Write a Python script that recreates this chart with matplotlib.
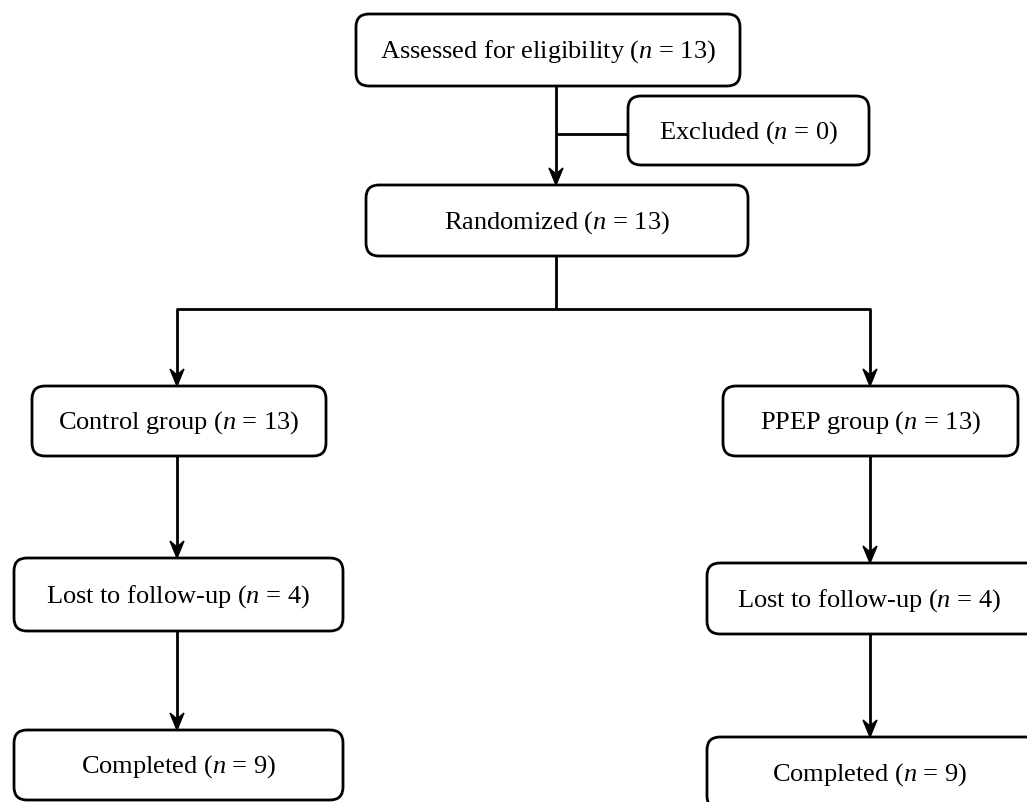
import matplotlib.pyplot as plt
from matplotlib.patches import FancyBboxPatch, Polygon

plt.rcParams["mathtext.fontset"] = "custom"
plt.rcParams["mathtext.rm"] = "Liberation Serif"
plt.rcParams["mathtext.it"] = "Liberation Serif:italic"

# flow chart content
labels = ["Assessed for eligibility", "Excluded", "Randomized",
          "Control group", "PPEP group",
          "Lost to follow-up", "Lost to follow-up",
          "Completed", "Completed"]
counts = [13, 0, 13, 13, 13, 4, 4, 9, 9]

# box layout in pixels: x0, y0, x1, y1 (y grows downward)
boxes = [(356, 15, 740, 87), (628, 97, 869, 166), (366, 186, 748, 257),
         (32, 387, 326, 457), (723, 387, 1018, 457),
         (14, 559, 343, 632), (707, 564, 1040, 635),
         (14, 731, 343, 801), (707, 738, 1040, 810)]

fig = plt.figure(figsize=(10.27, 8.03), dpi=100)
ax = fig.add_axes([0, 0, 1, 1])
ax.set_xlim(0, 1027)
ax.set_ylim(803, 0)
ax.axis("off")

lw = 2.0
font = "Liberation Serif"

for (x0, y0, x1, y1), lab, n in zip(boxes, labels, counts):
    p = FancyBboxPatch((x0, y0), x1 - x0, y1 - y0,
                       boxstyle="round,pad=0,rounding_size=13",
                       fc="white", ec="black", lw=lw, zorder=2)
    ax.add_patch(p)
    cx = (x0 + x1) / 2 if x1 <= 1027 else (x0 + x1) / 2 - 4
    ax.text(cx, (y0 + y1) / 2 + 1, lab + " ($\\mathit{n}$ = %d)" % n,
            ha="center", va="center", fontsize=19, family=font, zorder=3)


def line(xs, ys):
    ax.plot(xs, ys, color="black", lw=lw, solid_capstyle="butt", zorder=1)


def arrow(x, y0, y1):
    # straight shaft plus a notched (stealth-like) head
    line([x, x], [y0, y1 - 8])
    head = Polygon([(x, y1), (x - 7, y1 - 17), (x, y1 - 11), (x + 7, y1 - 17)],
                   closed=True, fc="black", ec="black", lw=1, zorder=3)
    ax.add_patch(head)


# top part
arrow(556, 87, 186)
line([556, 628], [135, 135])
line([556, 556], [257, 310])
line([177 - 1, 870 + 1], [310, 310])
arrow(177, 310, 387)
arrow(870, 310, 387)

# control arm
arrow(177, 457, 559)
arrow(177, 632, 731)

# PPEP arm
arrow(870, 457, 564)
arrow(870, 635, 738)

fig.savefig("out.png", dpi=100)
